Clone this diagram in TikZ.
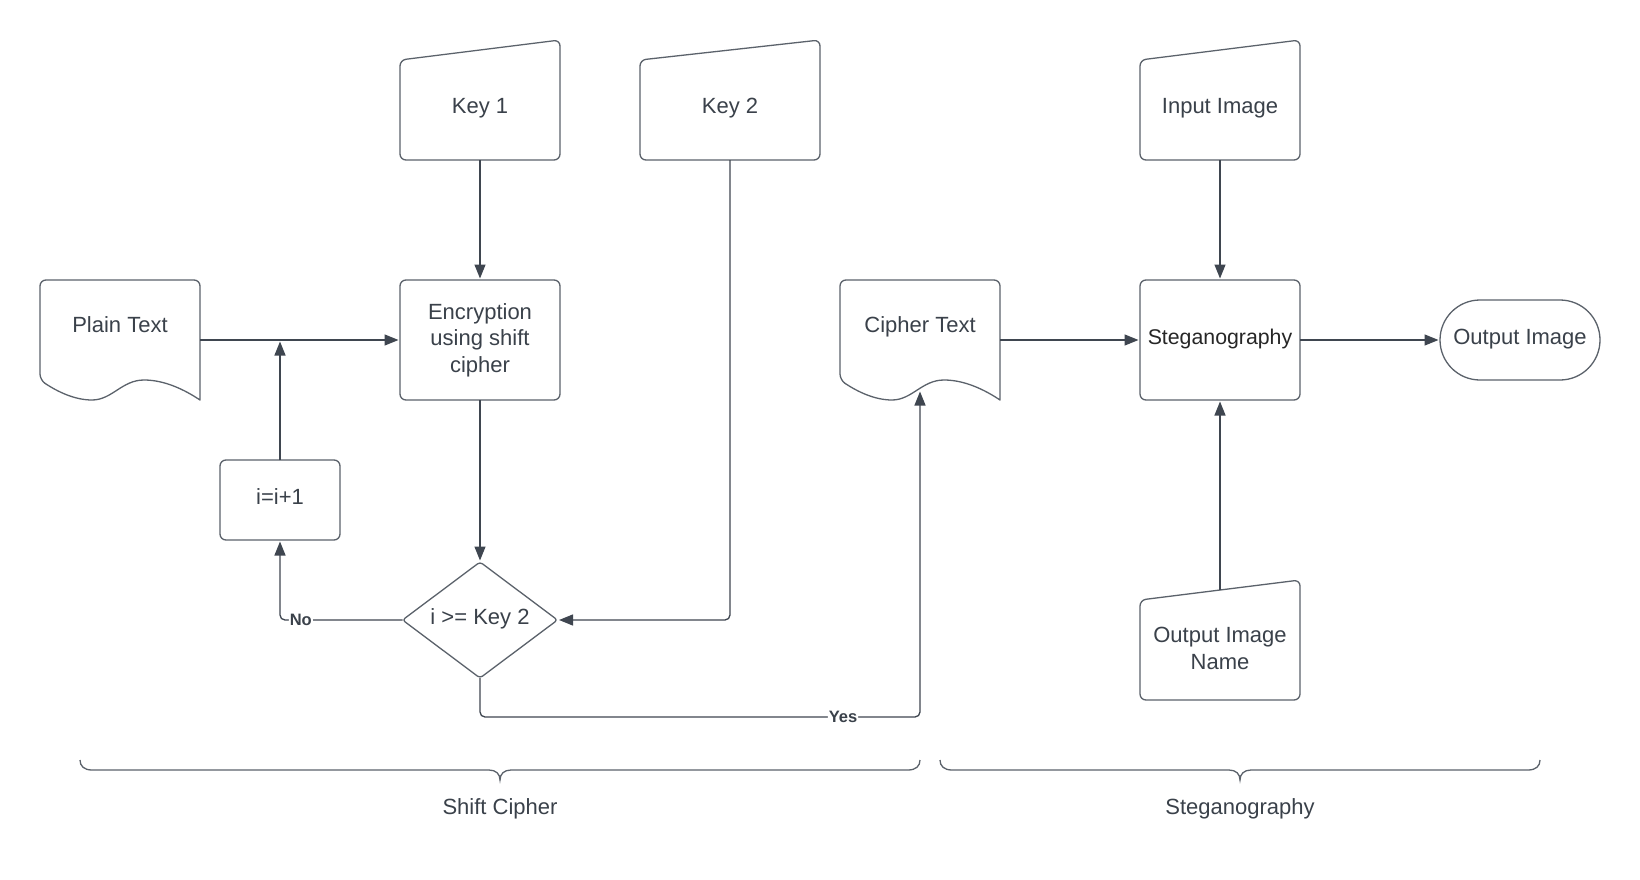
\documentclass[tikz,border=0pt]{standalone}
\usepackage{fontspec}
\setmainfont{Liberation Sans}
\usetikzlibrary{arrows.meta}
\definecolor{ink}{HTML}{3A414A}
\definecolor{edge}{HTML}{5B626B}
\definecolor{wire}{HTML}{3F4650}
% raise a single line so that its cap centre sits #1 above the node centre
\newcommand{\capat}[2]{\raisebox{\dimexpr#1-7.6pt\relax}[0pt][0pt]{#2}}
\tikzset{
  txt/.style={font=\fontsize{22pt}{26.5pt}\selectfont, text=ink},
  holder/.style={txt, rectangle, inner sep=0pt, outer sep=0pt,
                 minimum width=160pt, minimum height=#1},
  boxed/.style={draw=edge, line width=1.3pt, rounded corners=6pt},
  outline/.style={draw=edge, line width=1.3pt, line join=round},
  arr/.style={draw=wire, line width=1.3pt, rounded corners=5pt,
              -{Triangle[length=14pt,width=11pt]}, shorten >=1.5pt},
  lbl/.style={font=\fontsize{16.5pt}{20pt}\selectfont\bfseries, text=ink,
              fill=white, inner sep=1pt},
  brace/.style={draw=edge, line width=1.3pt},
}
\begin{document}
\begin{tikzpicture}[x=1pt,y=-1pt]
\fill[white] (0,0) rectangle (1640,880);
\useasboundingbox (0,0) rectangle (1640,880);

% manual inputs
\node[holder=110pt] (k1) at (480,105) {\capat{-1pt}{Key 1}};
\node[holder=110pt, minimum width=180pt] (k2) at (730,105) {\capat{-1pt}{Key 2}};
\node[holder=110pt] (inimg) at (1220,105) {\capat{-1pt}{Input Image}};
\node[holder=110pt, align=center] (oin) at (1220,645) {\rule{0pt}{21.7pt}Output Image\\Name};
\foreach \n in {k1,k2,inimg,oin}
  \draw[outline, rounded corners=6pt] ([yshift=-10pt]\n.north west) -- ([yshift=10pt]\n.north east)
     -- (\n.south east) -- (\n.south west) -- cycle;

% documents
\node[holder=120pt] (pt) at (120,340) {\capat{15pt}{Plain Text}};
\node[holder=120pt] (ct) at (920,340) {\capat{15pt}{Cipher Text}};
\foreach \n in {pt,ct}
  \draw[outline] ([yshift=20pt]\n.south west)
     .. controls +(18,12) and +(-17,0) .. ++(52,20)
     .. controls +(20,0) and +(-22,0) .. ++(52,-20)
     .. controls +(21,0) and +(-15,-10) .. (\n.south east)
     [rounded corners=6pt] -- (\n.north east) -- (\n.north west) -- cycle;

% processes
\node[holder=120pt, boxed, align=center] (enc) at (480,340) {Encryption\\using shift\\cipher};
\node[holder=120pt, boxed, text=black!85, font=\fontsize{21.3pt}{26pt}\selectfont] (steg) at (1220,340) {\capat{3pt}{Steganography}};
\node[holder=80pt, boxed, rounded corners=40pt] (outimg) at (1520,340) {\capat{3pt}{Output Image}};
\node[holder=80pt, boxed, minimum width=120pt] (inc) at (280,500) {\capat{3.5pt}{i=i+1}};

% decision
\node[holder=116pt, minimum width=155pt] (dec) at (480,620) {\capat{3pt}{i >= Key 2}};
\draw[outline, rounded corners=3pt] (dec.north) -- (dec.east) -- (dec.south) -- (dec.west) -- cycle;

% connectors
\draw[arr] (k1.south) -- (enc.north);
\draw[arr] (pt.east) -- (enc.west);
\draw[arr] (inc.north) -- (inc.north |- pt.east);
\draw[arr] (enc.south) -- (dec.north);
\draw[arr] (k2.south) -- (k2.south |- dec.east) -- (dec.east);
\draw[arr] (dec.west) -- node[lbl, pos=0.83] (no) {No} (inc.south |- dec.west) -- (inc.south);
\coordinate (yesturn) at ([yshift=-39pt]dec.south);
\draw[arr] (dec.south) -- (yesturn) -- node[lbl, pos=0.825] (yes) {Yes} (yesturn -| ct.south)
   -- ([yshift=10pt]ct.south);
\draw[arr] (ct.east) -- (steg.west);
\draw[arr] (inimg.south) -- (steg.north);
\draw[arr] (oin.north) -- (steg.south);
\draw[arr] (steg.east) -- (outimg.west);

% group braces
\draw[brace] (80,760) .. controls (80,766) and (84,770) .. (92,770) -- (489,770)
   .. controls (496,770) and (500,774) .. (500,780)
   .. controls (500,774) and (504,770) .. (511,770) -- (908,770)
   .. controls (916,770) and (920,766) .. (920,760);
\draw[brace] (940,760) .. controls (940,766) and (944,770) .. (952,770) -- (1229,770)
   .. controls (1236,770) and (1240,774) .. (1240,780)
   .. controls (1240,774) and (1244,770) .. (1251,770) -- (1528,770)
   .. controls (1536,770) and (1540,766) .. (1540,760);
\node[txt] (grp1) at (500,807) {\capat{0pt}{Shift Cipher}};
\node[txt] (grp2) at (1240,807) {\capat{0pt}{Steganography}};
\end{tikzpicture}
\end{document}
